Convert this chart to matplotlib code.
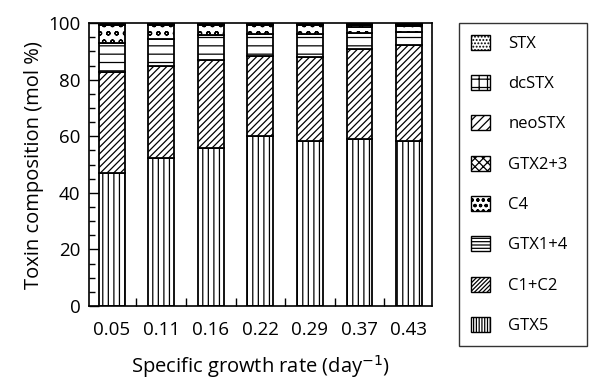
import numpy as np
import matplotlib
matplotlib.use('Agg')
import matplotlib.pyplot as plt
from matplotlib.patches import Patch
from matplotlib.ticker import MultipleLocator, FixedLocator

plt.rcParams['font.family'] = ['Open Sans', 'DejaVu Sans']
plt.rcParams['hatch.linewidth'] = 0.9

# ─── Data (mol %) ─────────────────────────────────────────────────────
growth_rates = ['0.05', '0.11', '0.16', '0.22', '0.29', '0.37', '0.43']

gtx5   = [47.0, 52.4, 55.7, 60.2, 58.2, 59.0, 58.5]
c1c2   = [35.7, 32.3, 31.1, 28.0, 29.7, 31.8, 33.6]
gtx14  = [10.3, 9.8, 9.1, 7.9, 8.2, 5.7, 4.9]
c4     = [6.4, 4.8, 3.6, 3.4, 3.3, 2.2, 2.0]
gtx23  = [0.3, 0.4, 0.2, 0.3, 0.2, 0.5, 0.4]
neostx = [0.1, 0.1, 0.1, 0.0, 0.1, 0.2, 0.2]
dcstx  = [0.1, 0.1, 0.1, 0.1, 0.1, 0.3, 0.2]
stx    = [0.1, 0.1, 0.1, 0.1, 0.2, 0.3, 0.2]

toxins = ['GTX5', 'C1+C2', 'GTX1+4', 'C4', 'GTX2+3', 'neoSTX', 'dcSTX', 'STX']
values = [gtx5, c1c2, gtx14, c4, gtx23, neostx, dcstx, stx]

# bar hatches, and denser ones for the small legend swatches
hatches = ['|||', '/////', '--', 'oo', 'xxx', '//', '++', '....']
key_hatches = ['||||||', '////////', '-----', 'ooo', 'xxxx', '////', '++', '.....']

# ─── Stacked bars ────────────────────────────────────────────────────
fig = plt.figure(figsize=(5.89, 3.85), dpi=100)
ax = fig.add_axes([0.151, 0.205, 0.582, 0.735])

x = np.arange(len(growth_rates))
bottom = np.zeros(len(x))
for name, vals, h in zip(toxins, values, hatches):
    vals = np.array(vals)
    ax.bar(x, vals, width=0.52, bottom=bottom, color='white',
           edgecolor='black', linewidth=1.3, hatch=h, label=name)
    bottom += vals

ax.set_xlim(-0.46, 6.46)
ax.set_ylim(0, 100)
ax.yaxis.set_major_locator(MultipleLocator(20))
ax.yaxis.set_minor_locator(MultipleLocator(5))
ax.set_xticks(x)
ax.set_xticklabels(growth_rates)
ax.xaxis.set_minor_locator(FixedLocator(x[:-1] + 0.5))
ax.tick_params(axis='both', which='both', direction='in', labelsize=13.5,
               width=1, pad=6)
ax.tick_params(axis='x', which='major', length=0, pad=11)
ax.tick_params(axis='x', which='minor', length=6)
ax.tick_params(axis='y', which='major', length=7)
ax.tick_params(axis='y', which='minor', length=4)
for s in ax.spines.values():
    s.set_linewidth(1.2)

ax.set_ylabel('Toxin composition (mol %)', fontsize=14.5, labelpad=3)
ax.set_xlabel('Specific growth rate (day$^{-1}$)', fontsize=14.5, labelpad=10)

# ─── Legend (STX on top) ─────────────────────────────────────────────
handles = [Patch(facecolor='white', edgecolor='black', hatch=h, linewidth=1, label=n)
           for n, h in zip(toxins, key_hatches)][::-1]
fig.legend(handles=handles, loc='upper left',
           bbox_to_anchor=(459 / 589, 1 - 348 / 385, 128 / 589, 325 / 385),
           mode='expand', fontsize=12, frameon=True, fancybox=False,
           edgecolor='black', borderaxespad=0, borderpad=0.7,
           labelspacing=1.39, handlelength=1.15, handleheight=1.0,
           handletextpad=1.1)
fig.legends[0].get_frame().set_linewidth(1.0)

plt.savefig('out.png', dpi=100)
plt.close()
